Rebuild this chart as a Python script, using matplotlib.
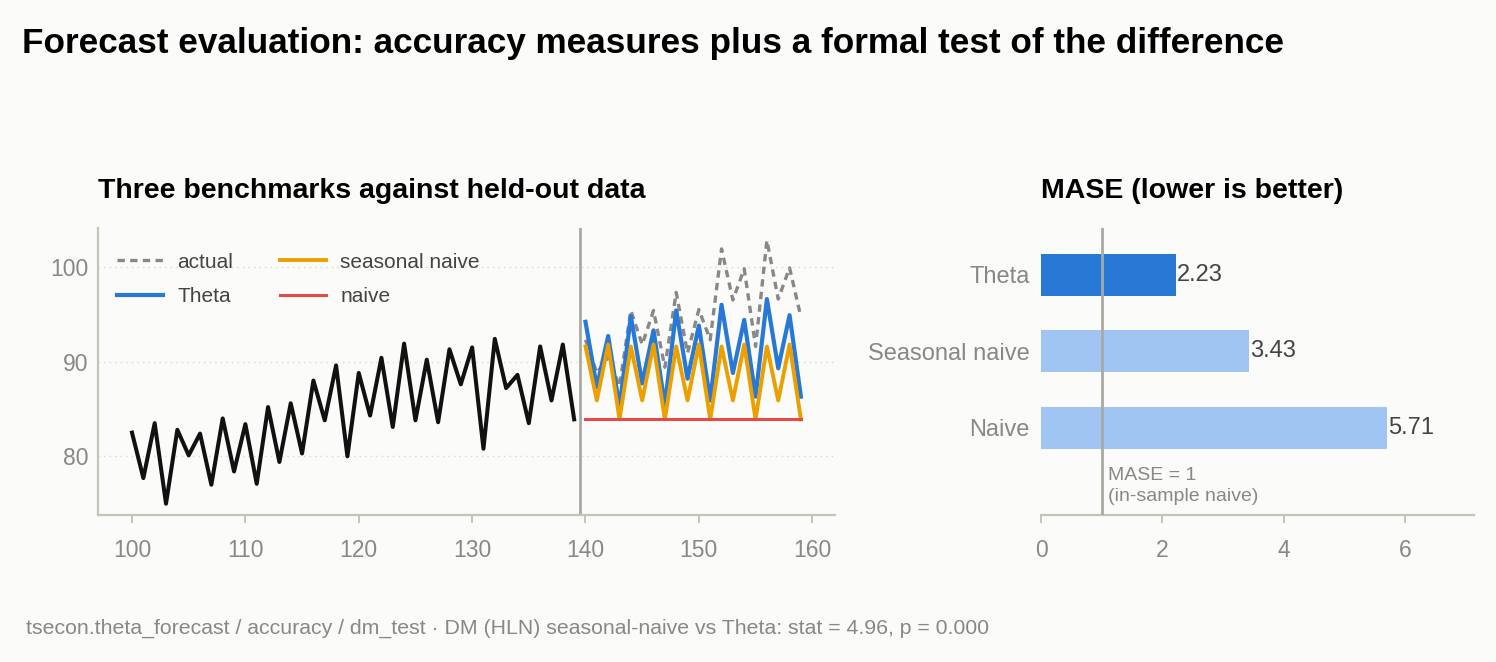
import numpy as np
import matplotlib
matplotlib.use("Agg")
import matplotlib.pyplot as plt

plt.rcParams['font.family'] = ['Liberation Sans', 'DejaVu Sans']

# in-sample history (t = 100..139)
hist_t = list(range(100, 140))
hist_y = [82.5, 77.7, 83.5, 75.0, 82.8, 80.1, 82.4, 77.0, 84.0, 78.4,
          83.4, 77.1, 85.2, 79.4, 85.6, 80.3, 88.0, 83.8, 89.6, 80.0,
          88.8, 84.3, 90.4, 83.1, 91.9, 83.8, 90.2, 83.6, 91.3, 87.6,
          91.5, 80.8, 92.4, 87.2, 88.6, 83.5, 91.6, 85.9, 91.8, 83.9]

# held-out period (t = 140..159)
test_t = list(range(140, 160))
actual = [92.3, 88.8, 90.5, 87.4, 95.4, 91.8, 95.4, 89.4, 97.3, 90.9,
          95.5, 92.3, 101.9, 96.5, 99.8, 91.6, 102.8, 96.6, 99.9, 94.7]
theta = [94.2, 87.3, 92.7, 85.2, 94.8, 87.7, 93.3, 85.4, 95.4, 88.2,
         93.8, 85.9, 96.0, 88.8, 94.4, 86.3, 96.6, 89.3, 94.9, 86.3]
snaive = [91.6, 85.9, 91.8, 83.9, 91.6, 85.9, 91.8, 83.9, 91.6, 85.9,
          91.8, 83.9, 91.6, 85.9, 91.8, 83.9, 91.6, 85.9, 91.8, 83.9]
naive = [83.9] * 20

# MASE scores
models = ["Theta", "Seasonal naive", "Naive"]
mase = [2.23, 3.43, 5.71]

BG = "#fbfbf9"
SPINE = "#c4c4b8"
TICKC = "#888888"
BLUE = "#2878d6"
LIGHT = "#a1c5f3"
ORANGE = "#eba000"
RED = "#e34a4a"

fig = plt.figure(figsize=(14.96, 6.62), dpi=100, facecolor=BG)

ax = fig.add_axes([0.0655, 0.222, 0.4926, 0.4335], facecolor=BG)
ax.plot(hist_t, hist_y, color="#111111", lw=2.9, zorder=3)
ax.plot(test_t, actual, color="#888888", lw=2.4, ls=(0, (2.2, 1.6)), label="actual", zorder=2)
ax.plot(test_t, theta, color=BLUE, lw=3.0, label="Theta", zorder=4)
ax.plot(test_t, snaive, color=ORANGE, lw=2.8, label="seasonal naive", zorder=5)
ax.plot(test_t, naive, color=RED, lw=2.2, label="naive", zorder=6)
ax.axvline(139.5, color="#aaaaa2", lw=2, zorder=1)

ax.set_xlim(97, 162)
ax.set_ylim(73.8, 104.1)
ax.set_xticks([100, 110, 120, 130, 140, 150, 160])
ax.set_yticks([80, 90, 100])
ax.grid(axis="y", color="#d8d8d0", ls=(0, (1, 3)), lw=1)
for s in ["top", "right"]:
    ax.spines[s].set_visible(False)
for s in ["left", "bottom"]:
    ax.spines[s].set_color(SPINE)
    ax.spines[s].set_linewidth(1.6)
ax.tick_params(axis="x", colors=TICKC, labelsize=16.5, length=6, width=1.4, color=SPINE, pad=11)
ax.tick_params(axis="y", colors=TICKC, labelsize=16.5, length=0, pad=7)
ax.set_title("Three benchmarks against held-out data", loc="left", fontsize=20.5,
             fontweight="bold", pad=22)
leg = ax.legend(loc="upper left", ncol=2, frameon=False, fontsize=15,
                handlelength=2.2, handletextpad=0.7, columnspacing=2.25,
                labelspacing=0.75, bbox_to_anchor=(0.0, 0.98))
for t in leg.get_texts():
    t.set_color("#444444")

# MASE bars
bx = fig.add_axes([0.6959, 0.222, 0.2894, 0.4335], facecolor=BG)
ypos = np.arange(len(models))[::-1]
colors = [BLUE] + [LIGHT] * (len(models) - 1)
bx.barh(ypos, mase, height=0.55, color=colors, zorder=2)
for y, v in zip(ypos, mase):
    bx.text(v + 0.01, y, f"{v:.2f}", va="center", ha="left", fontsize=17, color="#444444")
bx.axvline(1, color="#aaaaa2", lw=2, zorder=3)
bx.text(1.11, -0.76, "MASE = 1\n(in-sample naive)", fontsize=14, color="#888888",
        va="center", ha="left", linespacing=1.25)
bx.set_xlim(0, max(mase) * 1.25)
bx.set_ylim(-1.14, 2.61)
bx.set_yticks(ypos)
bx.set_yticklabels(models)
bx.set_xticks([0, 2, 4, 6])
for s in ["top", "right", "left"]:
    bx.spines[s].set_visible(False)
bx.spines["bottom"].set_color(SPINE)
bx.spines["bottom"].set_linewidth(1.6)
bx.tick_params(axis="x", colors=TICKC, labelsize=16.5, length=6, width=1.4, color=SPINE, pad=11)
bx.tick_params(axis="y", colors=TICKC, labelsize=17, length=0, pad=8)
bx.set_title("MASE (lower is better)", loc="left", fontsize=20.5, fontweight="bold", pad=22)

fig.text(0.0147, 0.934, "Forecast evaluation: accuracy measures plus a formal test of the difference",
         fontsize=25.3, fontweight="bold", va="center", ha="left")
fig.text(0.0174, 0.051, "tsecon.theta_forecast / accuracy / dm_test \u00b7 DM (HLN) seasonal-naive vs Theta: stat = 4.96, p = 0.000",
         fontsize=15.3, color="#888888", va="center", ha="left")

fig.savefig("out.png", dpi=100, facecolor=BG)
